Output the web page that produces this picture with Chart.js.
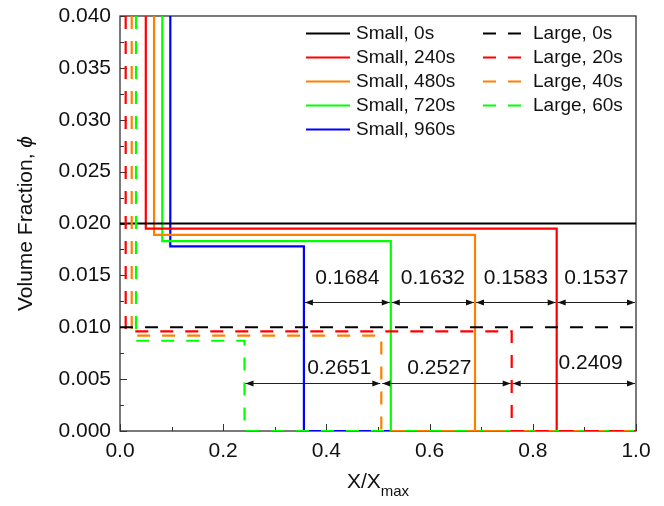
<!DOCTYPE html>
<html lang="en">
<head>
  <meta charset="UTF-8" />
  <title>Volume Fraction Profiles</title>
  <script src="https://cdn.jsdelivr.net/npm/chart.js"></script>
  <style>
    body { margin: 0; background: #fff; }
    .wrap { width: 664px; height: 506px; position: relative; }
  </style>
</head>
<body>
  <div class="wrap"><canvas id="phiChart"></canvas></div>

  <script>
    // axis limits
    const xMin = 0, xMax = 1.0;
    const yMin = 0, yMax = 0.040;

    // small particles: front (left step), plateau level, drop (right step)
    const smallLabels  = ['Small, 0s', 'Small, 240s', 'Small, 480s', 'Small, 720s', 'Small, 960s'];
    const smallColors  = ['#000000', '#ff0000', '#ff8000', '#00ff00', '#0000ff'];
    const smallFrontX  = [null, 0.050, 0.066, 0.082, 0.0975];
    const smallPlateau = [0.0200, 0.0195, 0.0189, 0.0183, 0.0178];
    const smallDropX   = [null, 0.8463, 0.6880, 0.5248, 0.3564];

    // large particles
    const largeLabels  = ['Large, 0s', 'Large, 20s', 'Large, 40s', 'Large, 60s'];
    const largeColors  = ['#000000', '#ff0000', '#ff8000', '#00ff00'];
    const largeFrontX  = [null, 0.011, 0.0227, 0.031];
    const largePlateau = [0.0100, 0.0096, 0.0092, 0.0087];
    const largeDropX   = [null, 0.7591, 0.5064, 0.2413];

    // distance annotations
    const topArrowY    = 0.01243;
    const topArrowFrom = [0.3564, 0.5248, 0.6880, 0.8463];
    const topArrowTo   = [0.5248, 0.6880, 0.8463, 1.0];
    const topArrowText = ['0.1684', '0.1632', '0.1583', '0.1537'];
    const topTextY     = 0.0147;

    const botArrowY    = 0.00463;
    const botArrowFrom = [0.2413, 0.5064, 0.7591];
    const botArrowTo   = [0.5064, 0.7591, 1.0];
    const botArrowText = ['0.2651', '0.2527', '0.2409'];
    const botTextX     = [0.425, 0.619, 0.912];
    const botTextY     = [0.0061, 0.0061, 0.0065];

    const FONT = "'Liberation Sans', Arial, sans-serif";

    function profile(front, plateau, drop) {
      if (front === null) return [{ x: xMin, y: plateau }, { x: xMax, y: plateau }];
      return [
        { x: front, y: yMax },
        { x: front, y: plateau },
        { x: drop, y: plateau },
        { x: drop, y: 0 },
        { x: xMax, y: 0 }
      ];
    }

    const datasets = [];
    smallLabels.forEach((lab, i) => {
      datasets.push({
        label: lab,
        data: profile(smallFrontX[i], smallPlateau[i], smallDropX[i]),
        borderColor: smallColors[i],
        borderWidth: 2.2,
        pointRadius: 0,
        fill: false,
        order: 2
      });
    });
    largeLabels.forEach((lab, i) => {
      datasets.push({
        label: lab,
        data: profile(largeFrontX[i], largePlateau[i], largeDropX[i]),
        borderColor: largeColors[i],
        borderWidth: 2.2,
        borderDash: [13, 12],
        pointRadius: 0,
        fill: false,
        order: 1
      });
    });

    // frame and inward ticks
    const framePlugin = {
      id: 'frame',
      beforeDatasetsDraw(chart) {
        const { ctx, chartArea: a, scales: { x, y } } = chart;
        ctx.save();
        ctx.strokeStyle = '#333';
        ctx.lineWidth = 1.3;
        ctx.strokeRect(a.left, a.top, a.right - a.left, a.bottom - a.top);
        ctx.lineWidth = 1;
        ctx.beginPath();
        const xt = x.ticks.map(t => t.value);
        xt.forEach((v, i) => {
          const px = Math.round(x.getPixelForValue(v)) + 0.5;
          ctx.moveTo(px, a.bottom); ctx.lineTo(px, a.bottom - 7);
          if (i < xt.length - 1) {
            const mx = Math.round(x.getPixelForValue((v + xt[i + 1]) / 2)) + 0.5;
            ctx.moveTo(mx, a.bottom); ctx.lineTo(mx, a.bottom - 4);
          }
        });
        const yt = y.ticks.map(t => t.value);
        yt.forEach((v, i) => {
          const py = Math.round(y.getPixelForValue(v)) + 0.5;
          ctx.moveTo(a.left, py); ctx.lineTo(a.left + 7, py);
          if (i < yt.length - 1) {
            const my = Math.round(y.getPixelForValue((v + yt[i + 1]) / 2)) + 0.5;
            ctx.moveTo(a.left, my); ctx.lineTo(a.left + 4, my);
          }
        });
        ctx.stroke();
        ctx.restore();
      }
    };

    function arrow(ctx, x1, x2, py) {
      const L = 8, H = 3;
      ctx.beginPath();
      ctx.moveTo(x1 + 1, py); ctx.lineTo(x2 - 1, py);
      ctx.stroke();
      ctx.beginPath();
      ctx.moveTo(x1 + 1, py); ctx.lineTo(x1 + 1 + L, py - H); ctx.lineTo(x1 + 1 + L, py + H); ctx.closePath();
      ctx.moveTo(x2 - 1, py); ctx.lineTo(x2 - 1 - L, py - H); ctx.lineTo(x2 - 1 - L, py + H); ctx.closePath();
      ctx.fill();
    }

    const annotatePlugin = {
      id: 'annotate',
      afterDatasetsDraw(chart) {
        const { ctx, scales: { x, y } } = chart;
        ctx.save();
        ctx.strokeStyle = '#222';
        ctx.fillStyle = '#111';
        ctx.lineWidth = 1;
        ctx.font = '21px ' + FONT;
        ctx.textAlign = 'center';
        ctx.textBaseline = 'middle';
        const ty = Math.round(y.getPixelForValue(topArrowY)) + 0.5;
        topArrowFrom.forEach((f, i) => {
          const x1 = x.getPixelForValue(f), x2 = x.getPixelForValue(topArrowTo[i]);
          arrow(ctx, x1, x2, ty);
          ctx.fillText(topArrowText[i], (x1 + x2) / 2, y.getPixelForValue(topTextY));
        });
        const by = Math.round(y.getPixelForValue(botArrowY)) + 0.5;
        botArrowFrom.forEach((f, i) => {
          const x1 = x.getPixelForValue(f), x2 = x.getPixelForValue(botArrowTo[i]);
          arrow(ctx, x1, x2, by);
          ctx.fillText(botArrowText[i], x.getPixelForValue(botTextX[i]), y.getPixelForValue(botTextY[i]));
        });
        ctx.restore();
      }
    };

    const legendPlugin = {
      id: 'sideLegend',
      afterDraw(chart) {
        const { ctx, chartArea: a } = chart;
        const ds = chart.data.datasets;
        ctx.save();
        ctx.font = '19px ' + FONT;
        ctx.textBaseline = 'middle';
        ctx.fillStyle = '#111';
        const cols = [
          { items: ds.filter(d => !d.borderDash), lx: a.left + 186, len: 44, tx: a.left + 236 },
          { items: ds.filter(d => d.borderDash), lx: a.left + 363, len: 38, tx: a.left + 413 }
        ];
        cols.forEach(c => {
          c.items.forEach((d, i) => {
            const py = a.top + 17.5 + i * 24;
            ctx.strokeStyle = d.borderColor;
            ctx.lineWidth = 2.2;
            ctx.setLineDash(d.borderDash || []);
            ctx.beginPath();
            ctx.moveTo(c.lx, py); ctx.lineTo(c.lx + c.len, py);
            ctx.stroke();
            ctx.setLineDash([]);
            ctx.fillText(d.label, c.tx, py);
          });
        });
        ctx.restore();
      }
    };

    const titlesPlugin = {
      id: 'titles',
      afterDraw(chart) {
        const { ctx, chartArea: a } = chart;
        ctx.save();
        ctx.fillStyle = '#111';
        ctx.textBaseline = 'alphabetic';
        // x title with subscript
        const main = 'X/X', sub = 'max';
        ctx.font = '21px ' + FONT;
        const w1 = ctx.measureText(main).width;
        ctx.font = '15px ' + FONT;
        const w2 = ctx.measureText(sub).width;
        const cx = (a.left + a.right) / 2;
        const x0 = cx - (w1 + w2) / 2;
        ctx.font = '21px ' + FONT;
        ctx.textAlign = 'left';
        ctx.fillText(main, x0, 488);
        ctx.font = '15px ' + FONT;
        ctx.fillText(sub, x0 + w1, 496);
        // y title, rotated, phi in italics
        const t1 = 'Volume Fraction, ', t2 = 'ϕ';
        ctx.font = '21px ' + FONT;
        const u1 = ctx.measureText(t1).width;
        ctx.font = 'italic 21px ' + FONT;
        const u2 = ctx.measureText(t2).width;
        ctx.translate(32, (a.top + a.bottom) / 2);
        ctx.rotate(-Math.PI / 2);
        ctx.font = '21px ' + FONT;
        ctx.fillText(t1, -(u1 + u2) / 2, 0);
        ctx.font = 'italic 21px ' + FONT;
        ctx.fillText(t2, -(u1 + u2) / 2 + u1, 0);
        ctx.restore();
      }
    };

    new Chart(document.getElementById('phiChart').getContext('2d'), {
      type: 'line',
      data: { datasets },
      options: {
        responsive: true,
        maintainAspectRatio: false,
        animation: false,
        layout: { padding: { top: 16, right: 28, left: 0, bottom: 0 } },
        plugins: { legend: { display: false }, tooltip: { enabled: false } },
        scales: {
          x: {
            type: 'linear',
            min: xMin, max: xMax,
            grid: { display: false, drawTicks: false },
            border: { display: false },
            ticks: {
              stepSize: 0.2, padding: 8, color: '#111',
              font: { family: FONT, size: 21 },
              callback: v => v.toFixed(1)
            },
            afterFit: s => { s.height = 75; s.paddingLeft = 0; s.paddingRight = 0; }
          },
          y: {
            type: 'linear',
            min: yMin, max: yMax,
            grid: { display: false, drawTicks: false },
            border: { display: false },
            ticks: {
              stepSize: 0.005, padding: 9, color: '#111',
              font: { family: FONT, size: 21 },
              callback: v => v.toFixed(3)
            },
            afterFit: s => { s.width = 120; s.paddingTop = 0; s.paddingBottom = 0; }
          }
        }
      },
      plugins: [framePlugin, annotatePlugin, legendPlugin, titlesPlugin]
    });
  </script>
</body>
</html>
